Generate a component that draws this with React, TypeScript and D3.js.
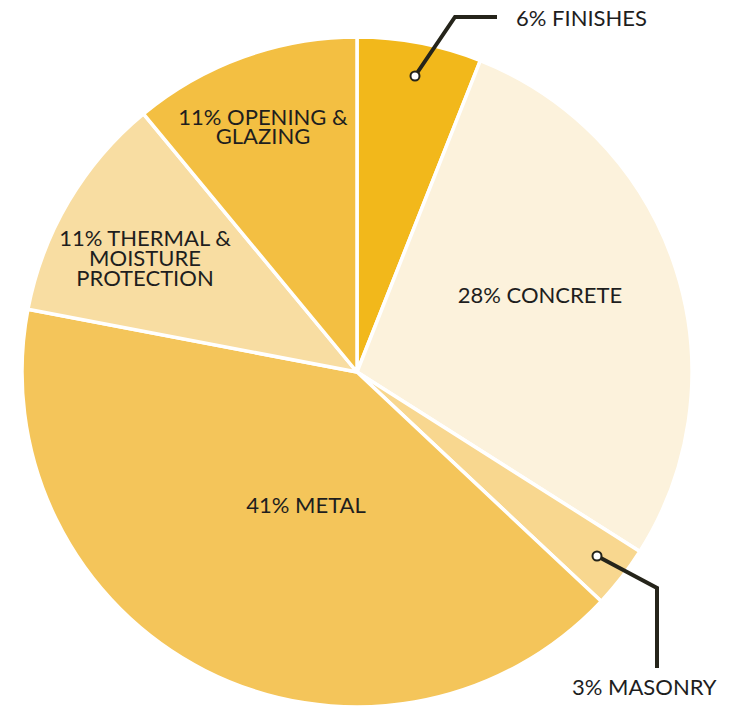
import React from "react";
import * as d3 from "d3";

const categories = ["FINISHES", "CONCRETE", "MASONRY", "METAL", "THERMAL & MOISTURE PROTECTION", "OPENING & GLAZING"];
const values = [6, 28, 3, 41, 11, 11];
const colors = ["#F2B81B", "#FCF2DC", "#F8D78F", "#F4C55A", "#F8DDA2", "#F3BF42"];
const labelLines = [
  ["6% FINISHES"],
  ["28% CONCRETE"],
  ["3% MASONRY"],
  ["41% METAL"],
  ["11% THERMAL &", "MOISTURE", "PROTECTION"],
  ["11% OPENING &", "GLAZING"],
];

const W = 731, H = 706;
const cx = 357, cy = 372, R = 335;

// label layout: offsets relative to the pie centre
const labelLayout = [
  { x: 159, y: -346, anchor: "start", lh: 20 },
  { x: 183, y: -69, anchor: "middle", lh: 20 },
  { x: 215, y: 323, anchor: "start", lh: 20 },
  { x: -51, y: 141, anchor: "middle", lh: 20 },
  { x: -212, y: -126, anchor: "middle", lh: 20 },
  { x: -94, y: -247, anchor: "middle", lh: 19 },
];
// leader lines (for small slices), relative to centre
const leaders: Record<number, [number, number][]> = {
  0: [[58, -296], [98, -355], [140, -355]],
  2: [[240, 184], [300, 216], [300, 296]],
};

export default function App() {
  const pie = d3.pie<number>().sort(null).value((d) => d)(values);
  const arc = d3.arc<d3.PieArcDatum<number>>().innerRadius(0).outerRadius(R);
  const line = d3.line();
  return (
    <svg width={W} height={H} style={{ position: "absolute", left: 0, top: 0, background: "#fff" }}>
      <g transform={`translate(${cx},${cy})`}>
        {pie.map((p, i) => (
          <path key={categories[i]} d={arc(p) || ""} fill={colors[i]} stroke="#fff" strokeWidth={3.5} strokeLinejoin="round" />
        ))}
        {Object.entries(leaders).map(([k, pts]) => (
          <g key={k}>
            <path d={line(pts) || ""} fill="none" stroke="#25241a" strokeWidth={4} strokeLinejoin="miter" />
            <circle cx={pts[0][0]} cy={pts[0][1]} r={4.5} fill="#fff" stroke="#25241a" strokeWidth={2} />
          </g>
        ))}
        {labelLines.map((lines, i) => {
          const L = labelLayout[i];
          return (
            <text key={i} x={L.x} y={L.y} textAnchor={L.anchor as any}
              fontFamily="Lato, 'Noto Sans', sans-serif" fontSize={22} fill="#1e1e1e">
              {lines.map((t, j) => (
                <tspan key={j} x={L.x} y={L.y + j * L.lh}>{t}</tspan>
              ))}
            </text>
          );
        })}
      </g>
    </svg>
  );
}
